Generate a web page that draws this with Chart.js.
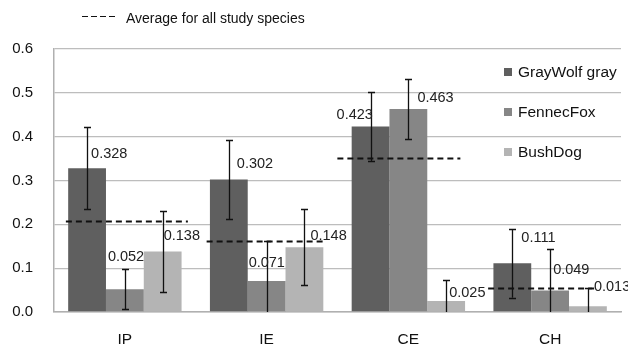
<!DOCTYPE html>
<html>
<head>
<meta charset="utf-8">
<script src="https://cdn.jsdelivr.net/npm/chart.js@4/dist/chart.umd.min.js"></script>
<style>
html,body{margin:0;padding:0;background:#fff;}
canvas{display:block;}
</style>
</head>
<body>
<canvas id="c" width="628" height="349"></canvas>
<script>
// ---- data ----
const categories = ["IP", "IE", "CE", "CH"];
const seriesNames = ["GrayWolf gray", "FennecFox", "BushDog"];
const grayWolf = [0.328, 0.302, 0.423, 0.111];
const fennecFox = [0.052, 0.071, 0.463, 0.049];
const bushDog = [0.138, 0.148, 0.025, 0.013];
const grayWolfErr = [0.093, 0.090, 0.078, 0.078];
const fennecFoxErr = [0.045, 0.090, 0.068, 0.094];
const bushDogErr = [0.093, 0.086, 0.048, 0.042];
const averageAll = [0.208, 0.162, 0.351, 0.055];
const yTicks = [0, 0.1, 0.2, 0.3, 0.4, 0.5, 0.6];

// ---- styling / layout ----
const FONT = '"Liberation Sans", Arial, sans-serif';
const colors = ["#5f5f5f", "#868686", "#b4b4b4"];
// label offsets in px relative to (bar centre x, bar top y): [dx of text left, dy of text middle]
const labelOffsets = [
  [[4, -14], [8, -16], [-34, -12], [9, -25]],
  [[-17, -32], [-18, -18], [9, -11], [3, -21]],
  [[1, -16], [6, -11], [3, -8], [6, -19]]
];
// average line extents (px relative to category centre)
const avgExtents = [[-59, 63], [-60, 60], [-71, 52], [-62, 44]];

const errs = [grayWolfErr, fennecFoxErr, bushDogErr];

const overlay = {
  id: 'overlay',
  afterDatasetsDraw(chart) {
    const ctx = chart.ctx;
    const x = chart.scales.x, y = chart.scales.y;
    ctx.save();
    // error bars
    ctx.strokeStyle = '#111';
    ctx.lineWidth = 1.3;
    chart.data.datasets.forEach((ds, di) => {
      const meta = chart.getDatasetMeta(di);
      meta.data.forEach((bar, i) => {
        const v = ds.data[i], e = errs[di][i];
        const yt = y.getPixelForValue(v + e);
        const lo = v - e;
        const yb = y.getPixelForValue(Math.max(lo, 0));
        const cx = Math.round(bar.x) + 0.5;
        ctx.beginPath();
        ctx.moveTo(cx, yt); ctx.lineTo(cx, yb);
        ctx.moveTo(cx - 3.5, Math.round(yt) + 0.5); ctx.lineTo(cx + 3.5, Math.round(yt) + 0.5);
        if (lo > 0) { ctx.moveTo(cx - 3.5, Math.round(yb) + 0.5); ctx.lineTo(cx + 3.5, Math.round(yb) + 0.5); }
        ctx.stroke();
      });
    });
    // value labels
    ctx.fillStyle = '#222';
    ctx.font = '14.5px ' + FONT;
    ctx.textAlign = 'left';
    ctx.textBaseline = 'middle';
    chart.data.datasets.forEach((ds, di) => {
      const meta = chart.getDatasetMeta(di);
      meta.data.forEach((bar, i) => {
        const off = labelOffsets[di][i];
        ctx.fillText(ds.data[i].toFixed(3), bar.x + off[0], bar.y + off[1]);
      });
    });
    // average dashed lines
    ctx.strokeStyle = '#111';
    ctx.lineWidth = 1.8;
    ctx.setLineDash([6, 4]);
    averageAll.forEach((a, i) => {
      const cx = x.getPixelForValue(i);
      const py = Math.round(y.getPixelForValue(a)) + 0.5;
      ctx.beginPath();
      ctx.moveTo(cx + avgExtents[i][0], py);
      ctx.lineTo(cx + avgExtents[i][1], py);
      ctx.stroke();
    });
    // top legend for average
    ctx.lineWidth = 1.2;
    ctx.setLineDash([6, 3]);
    ctx.beginPath();
    ctx.moveTo(82, 16.5); ctx.lineTo(118, 16.5);
    ctx.stroke();
    ctx.setLineDash([]);
    ctx.fillStyle = '#111';
    ctx.font = '14px ' + FONT;
    ctx.fillText('Average for all study species', 126, 19);
    // series legend
    ctx.font = '15.5px ' + FONT;
    const ca = chart.chartArea;
    seriesNames.forEach((n, i) => {
      const cy = ca.top + 23 + i * 40;
      ctx.fillStyle = colors[i];
      ctx.fillRect(ca.right - 117, cy - 4, 8, 8);
      ctx.fillStyle = '#111';
      ctx.fillText(n, ca.right - 103, cy + 1);
    });
    ctx.restore();
  }
};

new Chart(document.getElementById('c'), {
  type: 'bar',
  data: {
    labels: categories,
    datasets: [
      { label: seriesNames[0], data: grayWolf, backgroundColor: colors[0] },
      { label: seriesNames[1], data: fennecFox, backgroundColor: colors[1] },
      { label: seriesNames[2], data: bushDog, backgroundColor: colors[2] }
    ]
  },
  options: {
    responsive: false,
    animation: false,
    devicePixelRatio: 1,
    layout: { padding: { top: 49, right: 7, left: 0, bottom: 0 } },
    datasets: { bar: { categoryPercentage: 0.8, barPercentage: 1.0, borderWidth: 0 } },
    plugins: { legend: { display: false }, tooltip: { enabled: false } },
    scales: {
      x: {
        grid: { display: false, drawTicks: false },
        border: { display: true, color: '#b0b0b0', width: 1.5 },
        ticks: { color: '#111', font: { family: FONT, size: 15.5 }, padding: 18 },
        afterFit(s) { s.height = 37; }
      },
      y: {
        min: 0, max: 0.6,
        afterBuildTicks(s) { s.ticks = yTicks.map(v => ({ value: v })); },
        grid: { color: '#bdbdbd', lineWidth: 1.3, drawTicks: false },
        border: { display: true, color: '#b0b0b0', width: 1.5 },
        ticks: { color: '#111', font: { family: FONT, size: 15 }, padding: 21,
                 callback: v => Number(v).toFixed(1) },
        afterFit(s) { s.width = 54; }
      }
    }
  },
  plugins: [overlay]
});
</script>
</body>
</html>
